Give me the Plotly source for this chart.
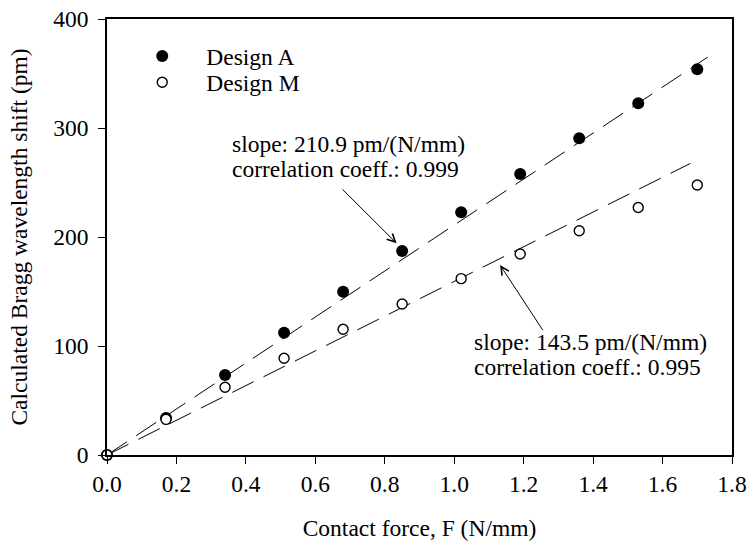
import plotly.graph_objects as go

# ---- data ----
force = [0.0, 0.17, 0.34, 0.51, 0.68, 0.85, 1.02, 1.19, 1.36, 1.53, 1.70]
design_a = [0, 34, 73.4, 112.2, 149.8, 187.2, 222.7, 257.8, 290.5, 322.7, 353.9]
design_m = [0, 32.7, 62.1, 88.7, 115.3, 138.5, 161.8, 184.4, 205.8, 227.0, 247.7]

fit_a_x = [0.0, 1.73]
fit_a_y = [0.0, 365.0]
fit_m_x = [0.0, 1.68]
fit_m_y = [0.0, 267.5]

x_ticks = [0.0, 0.2, 0.4, 0.6, 0.8, 1.0, 1.2, 1.4, 1.6, 1.8]
y_ticks = [0, 100, 200, 300, 400]

label_a = ["slope: 210.9 pm/(N/mm)", "correlation coeff.: 0.999"]
label_m = ["slope: 143.5 pm/(N/mm)", "correlation coeff.: 0.995"]

FONT = "Liberation Serif, Times New Roman, serif"
FS = 23.5

fig = go.Figure()
fig.add_trace(go.Scatter(x=fit_a_x, y=fit_a_y, mode="lines", showlegend=False,
                         line=dict(color="black", width=1, dash="24px,11px"), hoverinfo="skip"))
fig.add_trace(go.Scatter(x=fit_m_x, y=fit_m_y, mode="lines", showlegend=False,
                         line=dict(color="black", width=1, dash="24px,11px"), hoverinfo="skip"))
fig.add_trace(go.Scatter(x=force, y=design_a, mode="markers", name="Design A",
                         legend="legend", cliponaxis=False,
                         marker=dict(symbol="circle", size=12, color="black",
                                     line=dict(color="black", width=0))))
fig.add_trace(go.Scatter(x=force, y=design_m, mode="markers", name="Design M",
                         legend="legend2", cliponaxis=False,
                         marker=dict(symbol="circle", size=10, color="white",
                                     line=dict(color="black", width=1.4))))

annots = []
for txt, yy in zip(label_a, [285.5, 262.5]):
    annots.append(dict(x=0.355, y=yy, xref="x", yref="y", text=txt, showarrow=False,
                       xanchor="left", yanchor="middle",
                       font=dict(family=FONT, size=FS, color="black")))
for txt, yy in zip(label_m, [103.5, 80.5]):
    annots.append(dict(x=1.05, y=yy, xref="x", yref="y", text=txt, showarrow=False,
                       xanchor="left", yanchor="middle",
                       font=dict(family=FONT, size=FS, color="black")))
annots.append(dict(x=0.834, y=194.2, ax=0.674, ay=245, xref="x", yref="y",
                   axref="x", ayref="y", text="", showarrow=True, arrowhead=5,
                   arrowsize=1.6, arrowwidth=1, arrowcolor="black", standoff=0))
annots.append(dict(x=1.132, y=174.3, ax=1.258, ay=113.1, xref="x", yref="y",
                   axref="x", ayref="y", text="", showarrow=True, arrowhead=5,
                   arrowsize=1.6, arrowwidth=1, arrowcolor="black", standoff=0))

axis_common = dict(showline=True, mirror=True, linecolor="black", linewidth=1.5,
                   ticks="outside", ticklen=7, tickwidth=1.2, tickcolor="black",
                   showgrid=False, zeroline=False,
                   tickfont=dict(family=FONT, size=FS, color="black"))

legend_common = dict(xanchor="left", yanchor="top", bgcolor="rgba(0,0,0,0)",
                     borderwidth=0, font=dict(family=FONT, size=FS), itemwidth=78)

fig.update_layout(
    width=748, height=543,
    margin=dict(l=107, r=16, t=19, b=88),
    paper_bgcolor="white", plot_bgcolor="white",
    font=dict(family=FONT, size=FS, color="black"),
    xaxis=dict(range=[0, 1.8], tickvals=x_ticks, tickformat=".1f",
               title=dict(text="Contact force, F (N/mm)", standoff=24,
                          font=dict(family=FONT, size=FS)),
               automargin=False, **axis_common),
    yaxis=dict(range=[0, 400], tickvals=y_ticks, ticklabelstandoff=5,
               title=dict(text="Calculated Bragg wavelength shift (pm)", standoff=19,
                          font=dict(family=FONT, size=FS)),
               automargin=False, **axis_common),
    legend=dict(x=0.018, y=0.965, **legend_common),
    legend2=dict(x=0.018, y=0.905, **legend_common),
    annotations=annots,
    showlegend=True,
)

fig.write_html("out.html")
